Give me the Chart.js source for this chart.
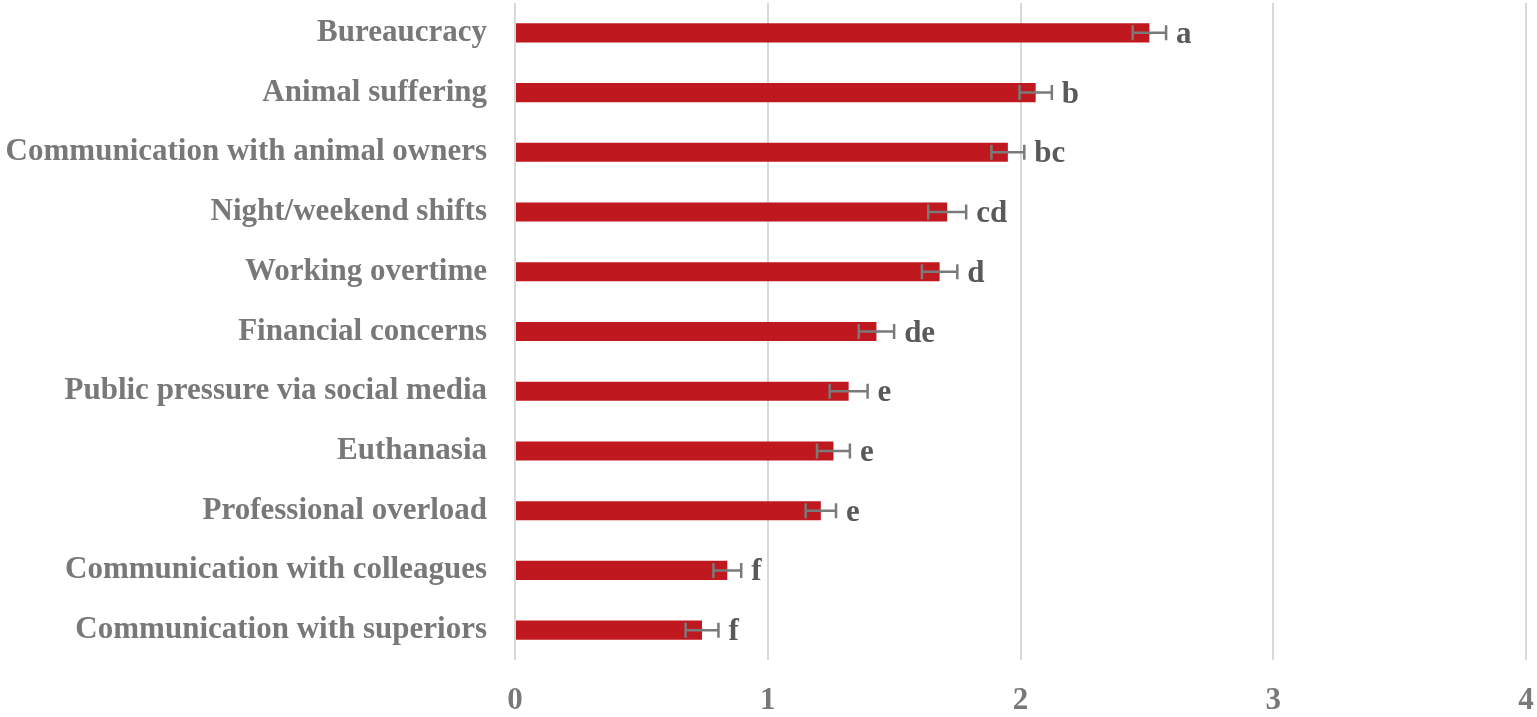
<!DOCTYPE html>
<html>
<head>
<meta charset="utf-8">
<script src="https://cdn.jsdelivr.net/npm/chart.js@4.4.1/dist/chart.umd.min.js"></script>
<style>
  html, body { margin: 0; padding: 0; background: #ffffff; }
  #wrap { width: 1537px; height: 717px; }
</style>
</head>
<body>
<div id="wrap"><canvas id="chart" width="1537" height="717"></canvas></div>
<script>
// Dados
const categorias = [
  "Bureaucracy",
  "Animal suffering",
  "Communication with animal owners",
  "Night/weekend shifts",
  "Working overtime",
  "Financial concerns",
  "Public pressure via social media",
  "Euthanasia",
  "Professional overload",
  "Communication with colleagues",
  "Communication with superiors",
];
const medias = [2.51, 2.06, 1.95, 1.71, 1.68, 1.43, 1.32, 1.26, 1.21, 0.84, 0.74];
const erros = [0.066, 0.064, 0.065, 0.075, 0.07, 0.07, 0.075, 0.065, 0.06, 0.055, 0.065];
const letras = ["a", "b", "bc", "cd", "d", "de", "e", "e", "e", "f", "f"];
const ticksX = [0, 1, 2, 3, 4];

const corBarra = "#c0181f";
const corTexto = "#787878";
const corLetra = "#595959";
const corErro = "#7a7a7a";
const fonte = '"Liberation Serif", "Times New Roman", serif';

// Plugin para desenhar barras de erro e letras
const errorBarPlugin = {
  id: "errorBars",
  afterDatasetsDraw(chart) {
    const ctx = chart.ctx;
    const x = chart.scales.x;
    const meta = chart.getDatasetMeta(0);
    meta.data.forEach((bar, i) => {
      const y = bar.y;
      const lo = x.getPixelForValue(medias[i] - erros[i]);
      const hi = x.getPixelForValue(medias[i] + erros[i]);
      ctx.save();
      ctx.strokeStyle = corErro;
      ctx.lineWidth = 2.5;
      ctx.beginPath();
      ctx.moveTo(lo, y);
      ctx.lineTo(hi, y);
      ctx.moveTo(lo, y - 7.5);
      ctx.lineTo(lo, y + 7.5);
      ctx.moveTo(hi, y - 7.5);
      ctx.lineTo(hi, y + 7.5);
      ctx.stroke();

      ctx.font = "bold 31px " + fonte;
      ctx.fillStyle = corLetra;
      ctx.textAlign = "left";
      ctx.textBaseline = "alphabetic";
      ctx.fillText(letras[i], hi + 10, y + 10);
      ctx.restore();
    });
  },
};

Chart.defaults.font.family = fonte;
Chart.defaults.font.weight = "bold";
Chart.defaults.font.size = 31;
Chart.defaults.color = corTexto;

const ctx = document.getElementById("chart");

const chart = new Chart(ctx, {
  type: "bar",
  data: {
    labels: categorias,
    datasets: [{
      data: medias,
      backgroundColor: corBarra,
      borderWidth: 0,
      categoryPercentage: 1,
      barPercentage: 0.32,
    }],
  },
  options: {
    indexAxis: "y",
    responsive: false,
    animation: false,
    layout: { padding: { top: 3, right: 11, left: 0, bottom: 0 } },
    plugins: {
      legend: { display: false },
      tooltip: { enabled: false },
    },
    scales: {
      x: {
        min: 0,
        max: 4,
        afterBuildTicks: (scale) => {
          scale.ticks = ticksX.map((v) => ({ value: v }));
        },
        afterFit: (scale) => {
          scale.height = 57;
          scale.paddingLeft = 0;
          scale.paddingRight = 0;
        },
        grid: { color: "#d9d9d9", lineWidth: 2, drawTicks: false },
        border: { display: false },
        ticks: { padding: 22, color: corTexto },
      },
      y: {
        grid: { display: false },
        border: { display: false },
        afterFit: (scale) => {
          scale.width = 515;
          scale.paddingTop = 0;
          scale.paddingBottom = 0;
        },
        ticks: { padding: 20, color: corTexto },
      },
    },
  },
  plugins: [errorBarPlugin],
});
</script>
</body>
</html>
